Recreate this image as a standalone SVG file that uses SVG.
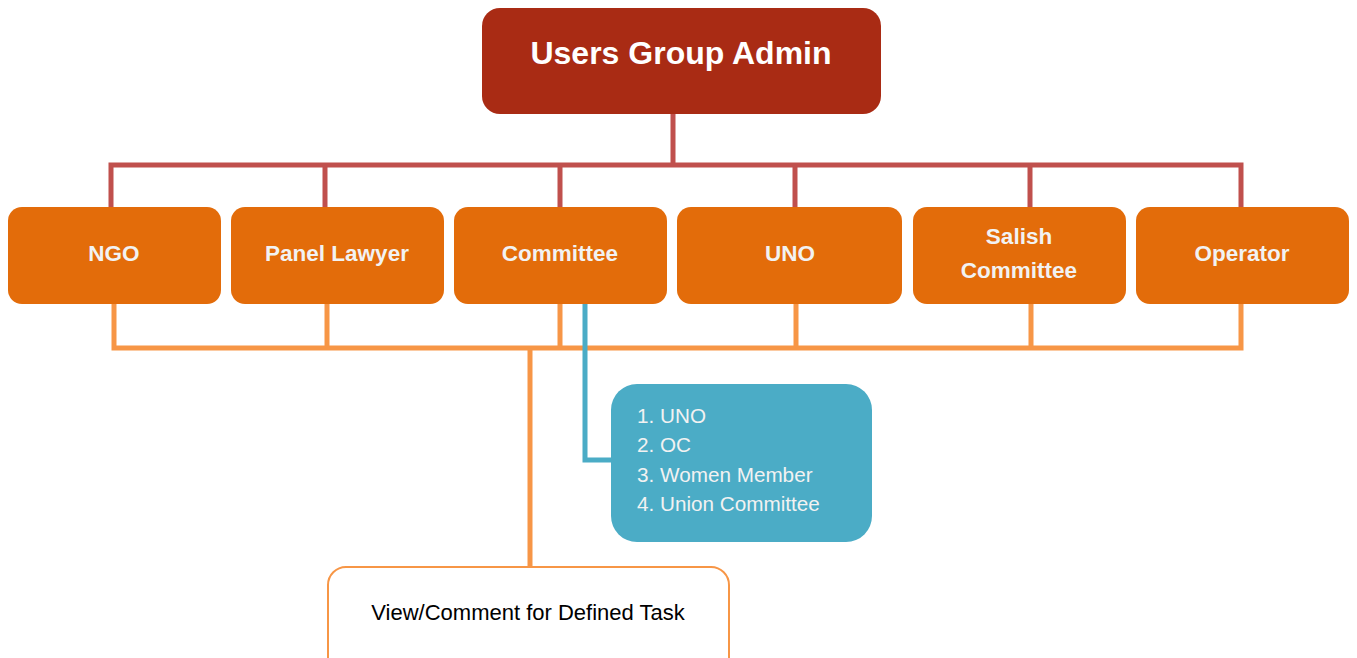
<svg xmlns="http://www.w3.org/2000/svg" width="1357" height="658" viewBox="0 0 1357 658">
<style>
.role rect{fill:#E36C0A;}
.role text{fill:#F2F2F2;font-family:"Liberation Sans",Arial,sans-serif;font-weight:bold;font-size:22.5px;text-anchor:middle;}
.red{stroke:#C0504D;stroke-width:5;fill:none;}
.org{stroke:#F79646;stroke-width:5;fill:none;}
.teal{stroke:#4BACC6;stroke-width:5;fill:none;}
</style>
<rect width="1357" height="658" fill="#ffffff"/>
<g id="connectors">
<path class="red" d="M673,108 V165 M111,213 V165 H1241 V213 M325,165 V213 M560,165 V213 M795,165 V213 M1030,165 V213"/>
<path class="org" d="M114,300 V348 H1241 V300 M327,300 V348 M560,300 V348 M796,300 V348 M1031,300 V348 M530,348 V570"/>
<path class="teal" d="M585,300 V460 H614"/>
</g>
<g id="admin">
<rect x="482" y="8" width="399" height="106" rx="18" fill="#A92B14"/>
<text x="681" y="64" fill="#ffffff" font-family="Liberation Sans, Arial, sans-serif" font-weight="bold" font-size="32" text-anchor="middle">Users Group Admin</text>
</g>
<g id="ngo" class="role"><rect x="8" y="207" width="213" height="97" rx="14"/><text x="114" y="261">NGO</text></g>
<g id="panel-lawyer" class="role"><rect x="231" y="207" width="213" height="97" rx="14"/><text x="337" y="261">Panel Lawyer</text></g>
<g id="committee" class="role"><rect x="454" y="207" width="213" height="97" rx="14"/><text x="560" y="261">Committee</text></g>
<g id="uno" class="role"><rect x="677" y="207" width="225" height="97" rx="14"/><text x="790" y="261">UNO</text></g>
<g id="salish" class="role"><rect x="913" y="207" width="213" height="97" rx="14"/><text x="1019" y="244">Salish</text><text x="1019" y="278">Committee</text></g>
<g id="operator" class="role"><rect x="1136" y="207" width="213" height="97" rx="14"/><text x="1242" y="261">Operator</text></g>
<g id="members">
<rect x="611" y="384" width="261" height="158" rx="26" fill="#4BACC6"/>
<g fill="#F2F2F2" font-family="Liberation Sans, Arial, sans-serif" font-size="20.7">
<text x="637" y="423">1. UNO</text>
<text x="637" y="452">2. OC</text>
<text x="637" y="482">3. Women Member</text>
<text x="637" y="511">4. Union Committee</text>
</g>
</g>
<g id="task">
<rect x="328" y="567" width="401" height="110" rx="18" fill="#ffffff" stroke="#F79646" stroke-width="2"/>
<text x="528" y="620" fill="#000000" font-family="Liberation Sans, Arial, sans-serif" font-size="22" text-anchor="middle">View/Comment for Defined Task</text>
</g>
</svg>
